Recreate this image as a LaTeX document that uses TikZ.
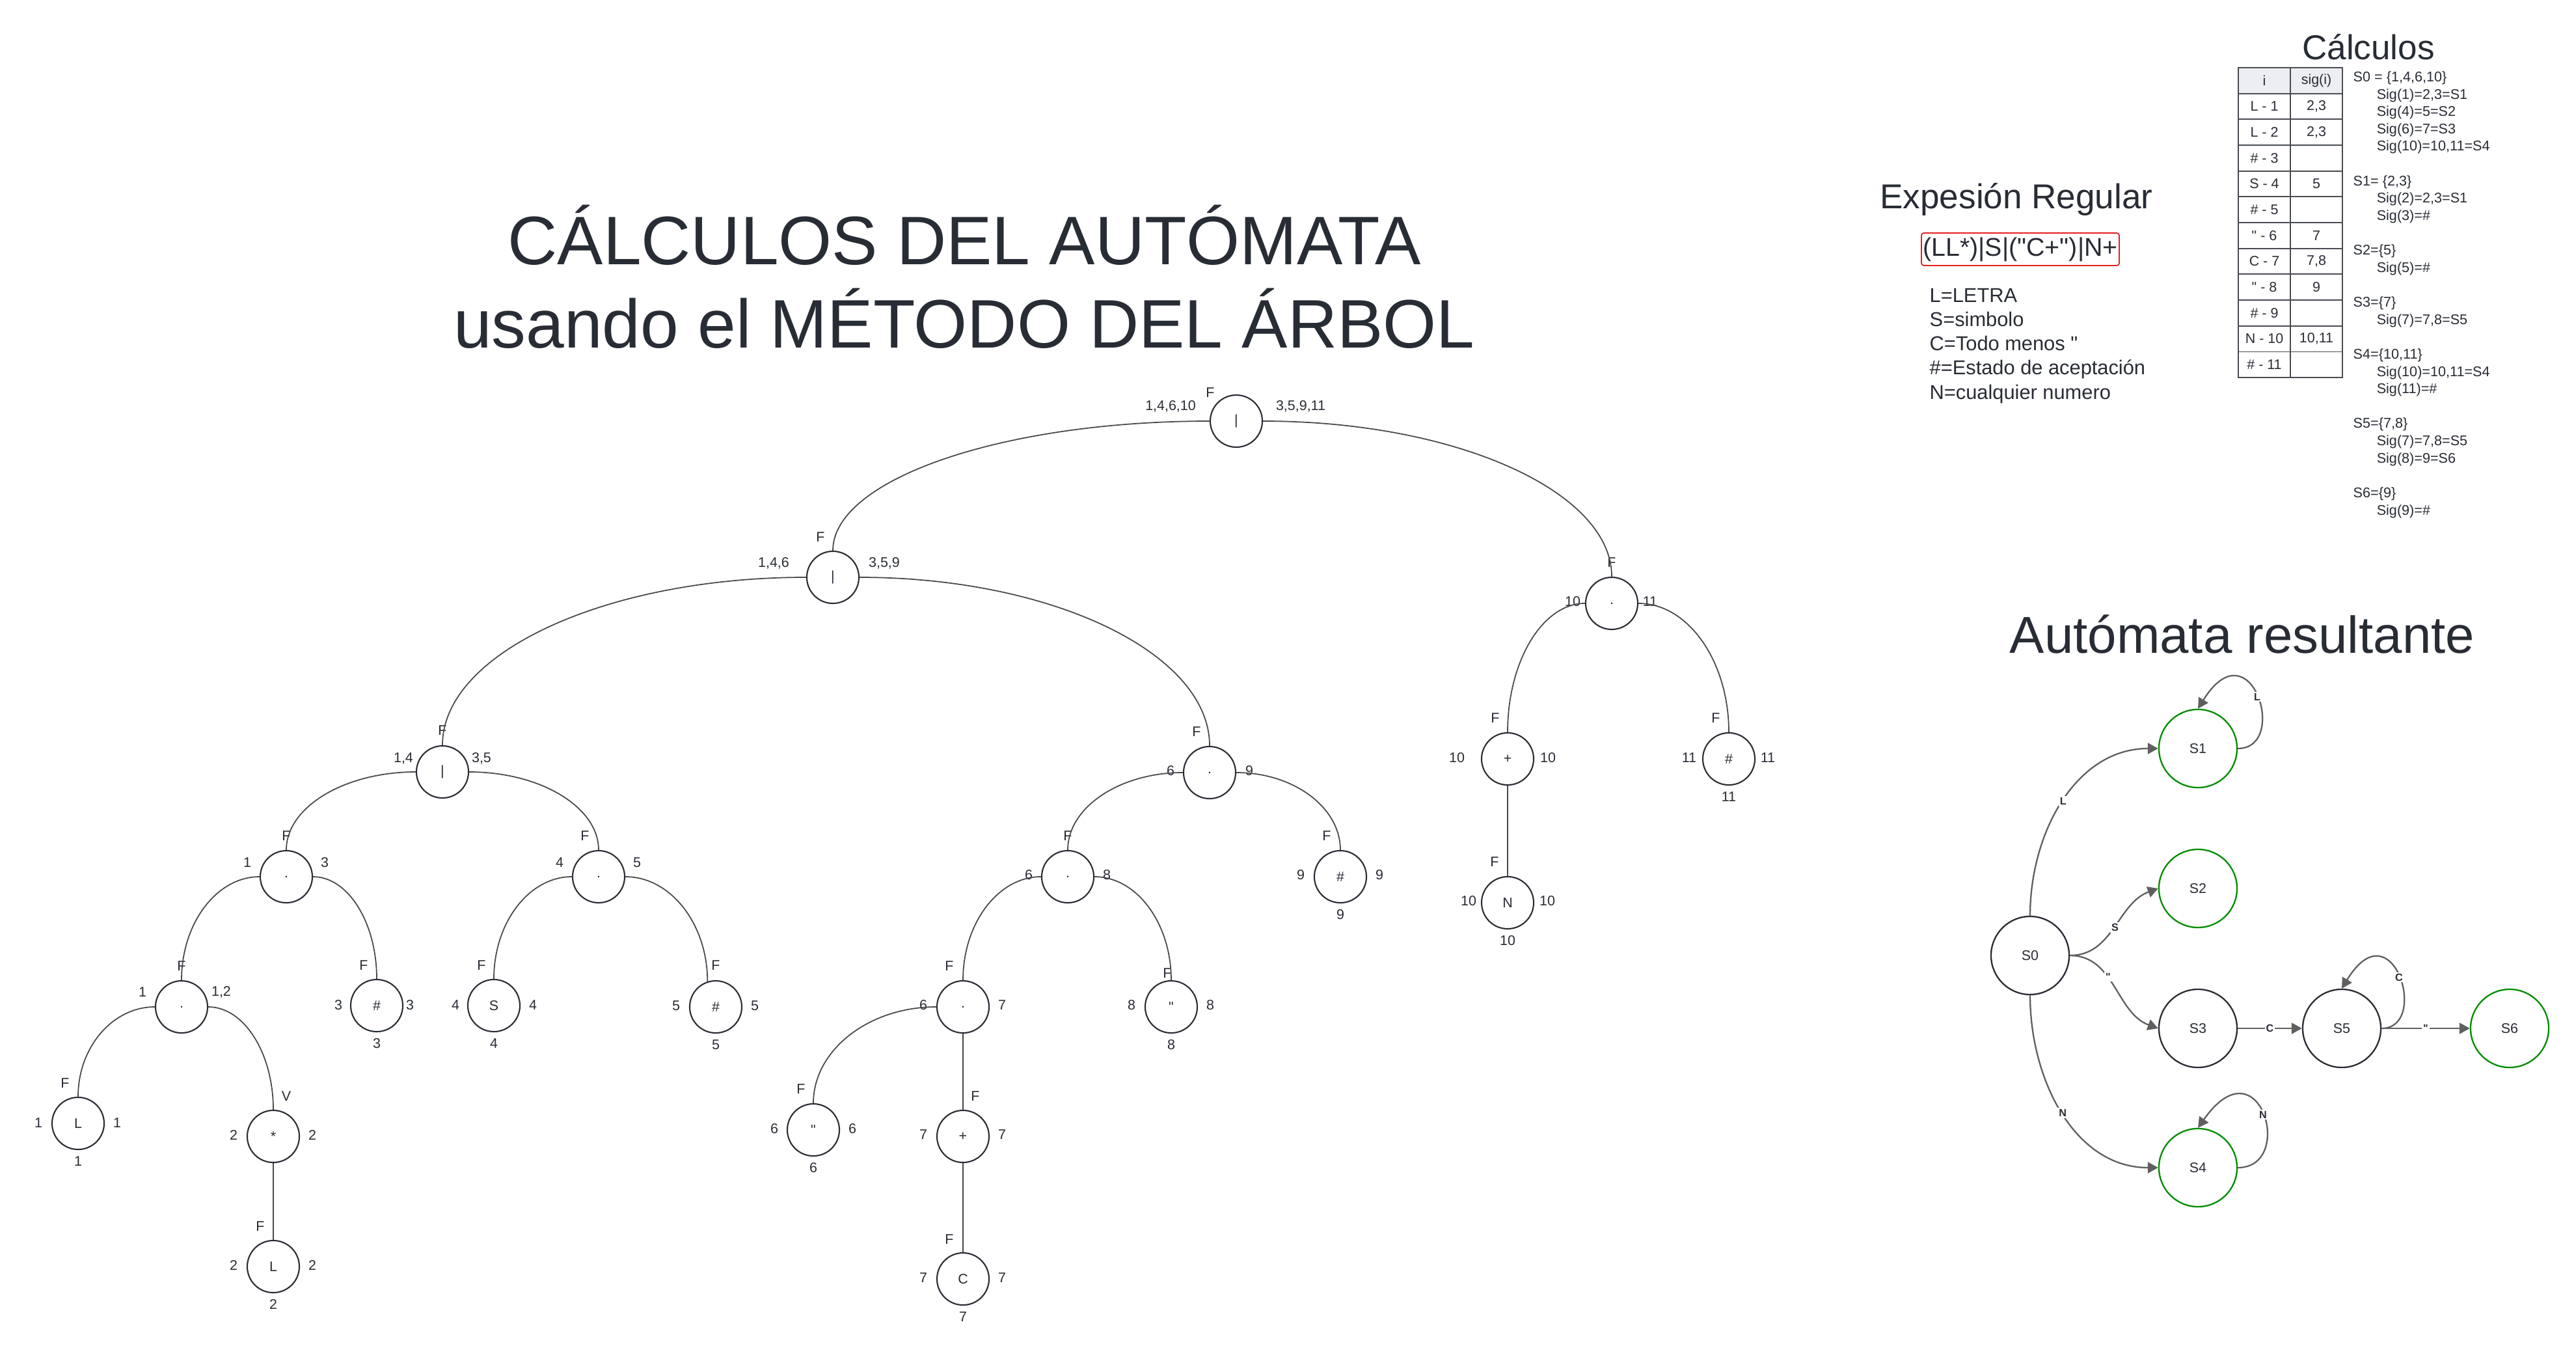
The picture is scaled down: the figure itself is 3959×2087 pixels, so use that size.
\documentclass[tikz,border=0pt]{standalone}
\usepackage{fontspec}
\setmainfont{Liberation Sans}
\usetikzlibrary{arrows.meta,calc}

\definecolor{ink}{RGB}{40,44,52}
\definecolor{wiregray}{RGB}{72,72,72}
\definecolor{arcgray}{RGB}{95,95,95}
\definecolor{okgreen}{RGB}{0,140,0}
\definecolor{regred}{RGB}{228,30,30}
\definecolor{headgray}{RGB}{236,238,242}

% straight double quote (no TeX ligature)
\newcommand\dq{\textquotedbl}
% labels round a tree node
\newcommand\fmark[3][F]{\node[lbl] (#2f) at ($(#2)+(#3)$) {#1};}
\newcommand\sidenums[6]{\node[lbl] (#1l) at ($(#1)+(-#2,#4)$) {#5};
  \node[lbl] (#1r) at ($(#1)+(#3,#4)$) {#6};}
\newcommand\belownum[2]{\node[lbl] (#1b) at ($(#1)+(0,-58)$) {#2};}
% curved branch: parent side -> child top
\newcommand\branch[4][north]{\draw[wire] (#2.#3) .. controls ($(#2.#3)!.55!(#2.#3 -| #4.#1)$)
  and ($(#4.#1)!.55!(#2.#3 -| #4.#1)$) .. (#4.#1);}

\begin{document}
\begin{tikzpicture}[x=0.01cm, y=0.01cm, text=ink,
  font=\fontsize{6.1}{7.3}\selectfont,
  tn/.style={circle, draw=ink, line width=0.6pt, minimum size=0.8cm, inner sep=0},
  lbl/.style={inner sep=0},
  wire/.style={draw=wiregray, line width=0.5pt},
  st/.style={circle, draw=ink, line width=0.65pt, minimum size=1.2cm, inner sep=0},
  acc/.style={st, draw=okgreen},
  tr/.style={draw=arcgray, line width=0.65pt, -{Triangle[length=0.16cm, width=0.17cm]}},
  tl/.style={fill=white, inner sep=0.6pt, font=\bfseries\fontsize{4.6}{5}\selectfont},
  grid/.style={draw=ink!85, line width=0.5pt},
  cell/.style={inner sep=0},
  sigtext/.style={inner sep=0, align=left, font=\fontsize{6.15}{7.57}\selectfont},
  hd/.style={inner sep=0}]
\useasboundingbox (0,0) rectangle (3959,-2087);

% titles
\node[hd, anchor=base, font=\fontsize{30}{36.4}\selectfont] (ttl1) at (1482,-406) {CÁLCULOS DEL AUTÓMATA};
\node[hd, anchor=base, font=\fontsize{30}{36.4}\selectfont] (ttl2) at (1482,-534) {usando el MÉTODO DEL ÁRBOL};
\node[hd, anchor=base, font=\fontsize{15.1}{18}\selectfont] (expr) at (3099,-320) {Expesión Regular};
\node[hd, anchor=base, font=\fontsize{15.1}{18}\selectfont] (calc) at (3640,-91) {Cálculos};
\node[hd, anchor=base, font=\fontsize{22.7}{27}\selectfont] (auto) at (3446,-1003) {Autómata resultante};

% regular expression and key (base = last line)
\node[draw=regred, rounded corners=0.04cm, line width=0.5pt, minimum width=3.04cm, minimum height=0.5cm,
  inner sep=0, font=\fontsize{11.2}{13}\selectfont] (re) at (3105,-383) {(LL*)|S|(\dq C+\dq)|N+};
\node[sigtext, anchor=base west, font=\fontsize{8.76}{10.55}\selectfont] (keys) at (2965,-613)
  {L=LETRA\\S=simbolo\\C=Todo menos \dq\\\#=Estado de aceptación\\N=cualquier numero};

% table of followpos
\fill[headgray] (3440,-104) rectangle (3600,-143.7);
\foreach \a/\b [count=\r] in {i/sig(i), L - 1/{2,3}, L - 2/{2,3}, \# - 3/{}, S - 4/5, \# - 5/{},
    \dq{} - 6/7, C - 7/{7,8}, \dq{} - 8/9, \# - 9/{}, N - 10/{10,11}, \# - 11/{}} {
  \node[cell] (ci\r) at (3480,{-84.2-39.67*\r}) {\a};
  \node[cell] (cs\r) at (3560,{-84.2-39.67*\r}) {\b};
}
\draw[grid] (3440,-104) rectangle (3600,-580);
\draw[grid] (3520,-104) -- (3520,-580);
\foreach \r in {1,...,11} \draw[grid] (3440,{-104-39.67*\r}) -- (3600,{-104-39.67*\r});

\node[sigtext, anchor=base west] (sig) at (3616,-791) {S0 = \{1,4,6,10\}\\
  \hspace*{0.36cm}Sig(1)=2,3=S1\\
  \hspace*{0.36cm}Sig(4)=5=S2\\
  \hspace*{0.36cm}Sig(6)=7=S3\\
  \hspace*{0.36cm}Sig(10)=10,11=S4\\[7.57pt]
  S1= \{2,3\}\\
  \hspace*{0.36cm}Sig(2)=2,3=S1\\
  \hspace*{0.36cm}Sig(3)=\#\\[7.57pt]
  S2=\{5\}\\
  \hspace*{0.36cm}Sig(5)=\#\\[7.57pt]
  S3=\{7\}\\
  \hspace*{0.36cm}Sig(7)=7,8=S5\\[7.57pt]
  S4=\{10,11\}\\
  \hspace*{0.36cm}Sig(10)=10,11=S4\\
  \hspace*{0.36cm}Sig(11)=\#\\[7.57pt]
  S5=\{7,8\}\\
  \hspace*{0.36cm}Sig(7)=7,8=S5\\
  \hspace*{0.36cm}Sig(8)=9=S6\\[7.57pt]
  S6=\{9\}\\
  \hspace*{0.36cm}Sig(9)=\#};

% syntax tree
\node[tn] (or1) at (1900,-647) {|};
\node[tn] (or2) at (1280,-887) {|};
\node[tn] (cat1011) at (2477,-927) {.};
\node[tn] (or3) at (680,-1186) {|};
\node[tn] (cat69) at (1859,-1187) {.};
\node[tn] (plus10) at (2317,-1166) {+};
\node[tn] (n11) at (2657,-1166) {\#};
\node[tn] (cat13) at (440,-1347) {.};
\node[tn] (cat45) at (920,-1347) {.};
\node[tn] (cat68) at (1641,-1347) {.};
\node[tn] (n9) at (2060,-1347) {\#};
\node[tn] (n10) at (2317,-1387) {N};
\node[tn] (cat12) at (279,-1547) {.};
\node[tn] (n3) at (579,-1545) {\#};
\node[tn] (n4) at (759,-1545) {S};
\node[tn] (n5) at (1100,-1547) {\#};
\node[tn] (cat67) at (1480,-1547) {.};
\node[tn] (n8) at (1800,-1547) {\dq};
\node[tn] (n1) at (120,-1726) {L};
\node[tn] (star2) at (420,-1746) {*};
\node[tn] (n6) at (1250,-1736) {\dq};
\node[tn] (plus7) at (1480,-1746) {+};
\node[tn] (n2) at (420,-1946) {L};
\node[tn] (n7) at (1480,-1965) {C};

\fmark{or1}{-40,44} \sidenums{or1}{101}{99}{23}{1,4,6,10}{3,5,9,11}
\fmark{or2}{-19,62} \sidenums{or2}{91}{79}{22}{1,4,6}{3,5,9}
\fmark{cat1011}{0,63} \sidenums{cat1011}{60}{59}{3}{10}{11}
\fmark{or3}{0,64} \sidenums{or3}{60}{60}{21}{1,4}{3,5}
\fmark{cat69}{-20,63} \sidenums{cat69}{60}{61}{3}{6}{9}
\fmark{plus10}{-19,63} \sidenums{plus10}{78}{62}{2}{10}{10}
\fmark{n11}{-20,63} \sidenums{n11}{61}{60}{2}{11}{11} \belownum{n11}{11}
\fmark{cat13}{0,63} \sidenums{cat13}{60}{59}{22}{1}{3}
\fmark{cat45}{-21,63} \sidenums{cat45}{60}{59}{22}{4}{5}
\fmark{cat68}{0,63} \sidenums{cat68}{60}{60}{3}{6}{8}
\fmark{n9}{-21,63} \sidenums{n9}{61}{60}{3}{9}{9} \belownum{n9}{9}
\fmark{n10}{-20,63} \sidenums{n10}{60}{61}{3}{10}{10} \belownum{n10}{10}
\fmark{cat12}{0,63} \sidenums{cat12}{60}{61}{23}{1}{1,2}
\fmark{n3}{-20,62} \sidenums{n3}{59}{51}{1}{3}{3} \belownum{n3}{3}
\fmark{n4}{-19,62} \sidenums{n4}{59}{60}{1}{4}{4} \belownum{n4}{4}
\fmark{n5}{0,64} \sidenums{n5}{61}{60}{2}{5}{5} \belownum{n5}{5}
\fmark{cat67}{-21,63} \sidenums{cat67}{61}{60}{3}{6}{7}
\fmark{n8}{-6,52} \sidenums{n8}{61}{60}{3}{8}{8} \belownum{n8}{8}
\fmark{n1}{-20,62} \sidenums{n1}{61}{60}{1}{1}{1} \belownum{n1}{1}
\fmark[V]{star2}{20,62} \sidenums{star2}{61}{60}{2}{2}{2}
\fmark{n6}{-19,63} \sidenums{n6}{60}{60}{2}{6}{6} \belownum{n6}{6}
\fmark{plus7}{19,62} \sidenums{plus7}{61}{60}{3}{7}{7}
\fmark{n2}{-20,62} \sidenums{n2}{61}{60}{2}{2}{2} \belownum{n2}{2}
\fmark{n7}{-21,61} \sidenums{n7}{61}{60}{2}{7}{7} \belownum{n7}{7}

\branch{or1}{west}{or2}
\branch{or1}{east}{cat1011}
\branch{or2}{west}{or3}
\branch{or2}{east}{cat69}
\branch{or3}{west}{cat13}
\branch{or3}{east}{cat45}
\branch{cat13}{west}{cat12}
\branch{cat13}{east}{n3}
\branch{cat12}{west}{n1}
\branch{cat12}{east}{star2}
\branch{cat45}{west}{n4}
\branch[108]{cat45}{east}{n5}
\branch{cat69}{west}{cat68}
\branch{cat69}{east}{n9}
\branch{cat68}{west}{cat67}
\branch{cat68}{east}{n8}
\branch{cat67}{west}{n6}
\branch{cat1011}{west}{plus10}
\branch{cat1011}{east}{n11}
\draw[wire] (star2) -- (n2);
\draw[wire] (cat67) -- (plus7);
\draw[wire] (plus7) -- (n7);
\draw[wire] (plus10) -- (n10);

% resulting automaton
\node[st] (S0) at (3120,-1468) {S0};
\node[acc] (S1) at (3378,-1150) {S1};
\node[acc] (S2) at (3378,-1365) {S2};
\node[st] (S3) at (3378,-1580) {S3};
\node[acc] (S4) at (3378,-1794) {S4};
\node[st] (S5) at (3599,-1580) {S5};
\node[acc] (S6) at (3857,-1580) {S6};

\draw[tr] (S0.north) to[out=90, in=180] node[tl]{L} (S1.west);
\draw[tr] (S0.east) to[out=0, in=200] node[tl]{S} (S2.west);
\draw[tr] (S0.east) to[out=0, in=160] node[tl, pos=.4]{\dq} (S3.west);
\draw[tr] (S0.south) to[out=-90, in=180] node[tl]{N} (S4.west);
\draw[tr] (S3) -- node[tl]{C} (S5);
\draw[tr] (S5) -- node[tl]{\dq} (S6);
\draw[tr] (S1.east) .. controls +(80,0) and +(81,130) .. node[tl]{L} (S1.north);
\draw[tr] (S4.east) .. controls +(90,0) and +(95,135) .. node[tl]{N} (S4.north);
\draw[tr] (S5.east) .. controls +(75,0) and +(78,128) .. node[tl]{C} (S5.north);
\end{tikzpicture}
\end{document}
